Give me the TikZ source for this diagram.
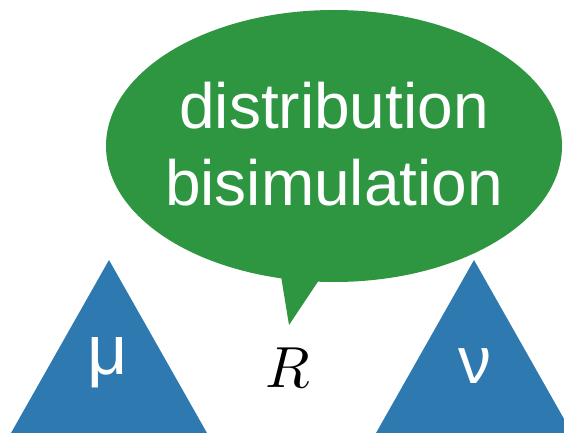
\documentclass[tikz,border=0pt]{standalone}
\usepackage{fontspec}
\setmainfont{Liberation Sans}
\usepackage{tikz}
\definecolor{bubblegreen}{RGB}{46,150,64}
\definecolor{triblue}{RGB}{46,122,176}
\begin{document}
\begin{tikzpicture}[x=1pt,y=-1pt]
\useasboundingbox (0,0) rectangle (564,433);
% Speech bubble
\fill[bubblegreen] (334,146) ellipse [x radius=228, y radius=136];
\coordinate (tip) at (289,325);
\fill[bubblegreen] (280,270) -- (tip) -- (323,274) -- cycle;
\node[inner sep=0pt, text=white, align=center, font=\fontsize{64}{77}\selectfont] (bubble) at (334,144) {distribution\\bisimulation};

% Left triangle
\fill[triblue] (109,260) -- (207,433) -- (11,433) -- cycle;
\node[text=white, font=\fontsize{70}{72}\selectfont] (mu) at (108,363) {μ};

% Right triangle
\fill[triblue] (474,260) -- (572,433) -- (376,433) -- cycle;
\node[text=white, font=\fontsize{66}{70}\selectfont] (nu) at (475,366) {ν};

% Relation
\node[scale=5.8] (rel) at (288,368) {$R$};
\end{tikzpicture}
\end{document}
